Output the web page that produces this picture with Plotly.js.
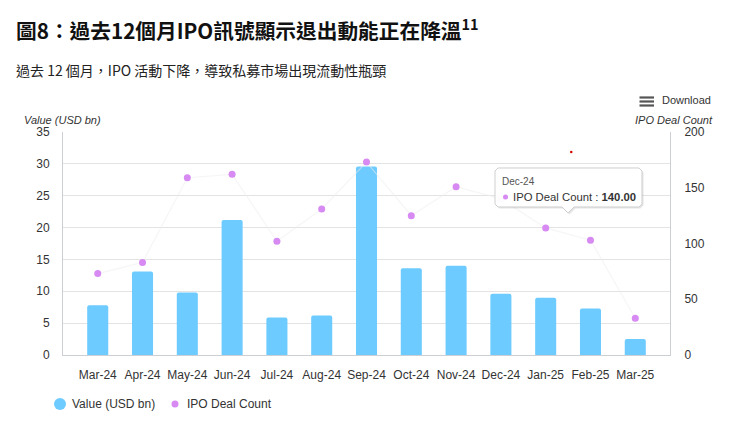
<!DOCTYPE html>
<html><head><meta charset="utf-8">
<script src="https://cdn.plot.ly/plotly-3.0.1.min.js"></script>
<style>html,body{margin:0;padding:0;background:#fff;}#chart{width:740px;height:429px;}</style>
</head><body><div id="chart"></div>
<script>
const months = ["Mar-24","Apr-24","May-24","Jun-24","Jul-24","Aug-24","Sep-24","Oct-24","Nov-24","Dec-24","Jan-25","Feb-25","Mar-25"];
const valueUSDbn = [7.8, 13.1, 9.8, 21.2, 5.9, 6.2, 29.6, 13.6, 14.0, 9.6, 9.0, 7.3, 2.5];
const ipoDealCount = [73, 83, 159, 162, 102, 131, 173, 125, 151, 140, 114, 103, 33];
const leftTicks = [0,5,10,15,20,25,30,35];
const rightTicks = [0,50,100,150,200];

const L=63, R=670, T=132, B=355;
const PX = x => (x-L)/(R-L);
const PY = y => (B-y)/(B-T);
const FONT = '"Liberation Sans", Arial, sans-serif';
const CJK = '"Noto Sans CJK TC", "Noto Sans", sans-serif';

const traces = [
  {type:'bar', name:'Value (USD bn)', x:months, y:valueUSDbn, yaxis:'y',
   marker:{color:'#6ecbff', cornerradius:2}, width:0.47, showlegend:false, hoverinfo:'skip'},
  {type:'scatter', mode:'lines+markers', name:'IPO Deal Count', x:months, y:ipoDealCount, yaxis:'y2',
   line:{color:'rgba(238,238,238,0.5)', width:1.2},
   marker:{color:'#d68af2', size:7}, showlegend:false, hoverinfo:'skip'}
];

// tooltip shape (box with notch)
const bx0=495, bx1=642, by0=168, by1=207, nx=568, r=3;
function tipPath(dx,dy){
  const p=(x,y)=>PX(x+dx).toFixed(5)+','+PY(y+dy).toFixed(5);
  return 'M'+p(bx0+r,by0)+' L'+p(bx1-r,by0)+' L'+p(bx1,by0+r)+' L'+p(bx1,by1-r)+' L'+p(bx1-r,by1)+
    ' L'+p(nx+6,by1)+' L'+p(nx,by1+6)+' L'+p(nx-6,by1)+' L'+p(bx0+r,by1)+' L'+p(bx0,by1-r)+
    ' L'+p(bx0,by0+r)+' Z';
}

const shapes = [
  {type:'path', xref:'paper', yref:'paper', path:tipPath(1.5,1.5), fillcolor:'rgba(0,0,0,0.10)', line:{width:0}},
  {type:'path', xref:'paper', yref:'paper', path:tipPath(0,0), fillcolor:'rgba(255,255,255,0.97)', line:{color:'#cfcfcf', width:1}},
  {type:'circle', xref:'paper', yref:'paper', x0:PX(503), x1:PX(508), y0:PY(199.5), y1:PY(194.5), fillcolor:'#d68af2', line:{width:0}},
  // red dot
  {type:'circle', xref:'paper', yref:'paper', x0:PX(570), x1:PX(572.5), y0:PY(153.2), y1:PY(150.8), fillcolor:'#d40000', line:{width:0}},
  // hamburger icon
  {type:'rect', xref:'paper', yref:'paper', x0:PX(639.5), x1:PX(654), y0:PY(98.6), y1:PY(96.4), fillcolor:'#555', line:{width:0}},
  {type:'rect', xref:'paper', yref:'paper', x0:PX(639.5), x1:PX(654), y0:PY(102.6), y1:PY(100.4), fillcolor:'#555', line:{width:0}},
  {type:'rect', xref:'paper', yref:'paper', x0:PX(639.5), x1:PX(654), y0:PY(106.6), y1:PY(104.4), fillcolor:'#555', line:{width:0}},
  // legend symbols
  {type:'circle', xref:'paper', yref:'paper', x0:PX(54), x1:PX(66), y0:PY(410), y1:PY(398), fillcolor:'#6ecbff', line:{width:0}},
  {type:'circle', xref:'paper', yref:'paper', x0:PX(171.5), x1:PX(178.5), y0:PY(407.5), y1:PY(400.5), fillcolor:'#d68af2', line:{width:0}}
];

const ann = (x,y,text,opts) => Object.assign({xref:'paper', yref:'paper', x:PX(x), y:PY(y), text:text,
  showarrow:false, xanchor:'left', yanchor:'middle', font:{family:FONT, size:12, color:'#333'}}, opts||{});

const annotations = [
  ann(14, 29, '<b>圖8：過去12個月IPO訊號顯示退出動能正在降溫<sup>11</sup></b>', {font:{family:CJK, size:20.7, color:'#111'}}),
  ann(14, 70, '過去 12 個月，IPO 活動下降，導致私募市場出現流動性瓶頸', {font:{family:CJK, size:14, color:'#222'}}),
  ann(660, 100, 'Download', {font:{family:FONT, size:11, color:'#333'}}),
  ann(22, 120, '<i>Value (USD bn)</i>', {font:{family:FONT, size:11, color:'#333'}}),
  ann(715, 120, '<i>IPO Deal Count</i>', {xanchor:'right', font:{family:FONT, size:11, color:'#333'}}),
  ann(500, 181.5, 'Dec-24', {font:{family:FONT, size:10, color:'#555'}}),
  ann(511, 197, 'IPO Deal Count : <b>140.00</b>', {font:{family:FONT, size:11.3, color:'#333'}}),
  ann(70, 404, 'Value (USD bn)', {font:{family:FONT, size:12, color:'#333'}}),
  ann(185, 404, 'IPO Deal Count', {font:{family:FONT, size:12, color:'#333'}})
];

const layout = {
  width:740, height:429,
  margin:{l:L, r:740-R, t:T, b:429-B, pad:0},
  paper_bgcolor:'#fff', plot_bgcolor:'#fff',
  showlegend:false, bargap:0.53,
  font:{family:FONT, size:12, color:'#333'},
  xaxis:{type:'category', showgrid:false, zeroline:false, showline:true, linecolor:'#ccd0d5', linewidth:1,
    ticks:'', ticklabelstandoff:9, tickfont:{family:FONT, size:12, color:'#333'}, fixedrange:true},
  yaxis:{range:[0,35], tickvals:leftTicks, ticktext:leftTicks.map(String), showgrid:true, gridcolor:'#e3e3e3', gridwidth:1,
    zeroline:false, showline:true, linecolor:'#ccd0d5', linewidth:1, ticks:'', ticklabelstandoff:10,
    tickfont:{family:FONT, size:12, color:'#333'}, fixedrange:true},
  yaxis2:{range:[0,200], overlaying:'y', side:'right', tickvals:rightTicks, ticktext:rightTicks.map(String), showgrid:false,
    zeroline:false, showline:true, linecolor:'#ccd0d5', linewidth:1, ticks:'', ticklabelstandoff:11,
    tickfont:{family:FONT, size:12, color:'#333'}, fixedrange:true},
  shapes:shapes, annotations:annotations
};

Plotly.newPlot('chart', traces, layout, {displayModeBar:false, staticPlot:true});
</script></body></html>
